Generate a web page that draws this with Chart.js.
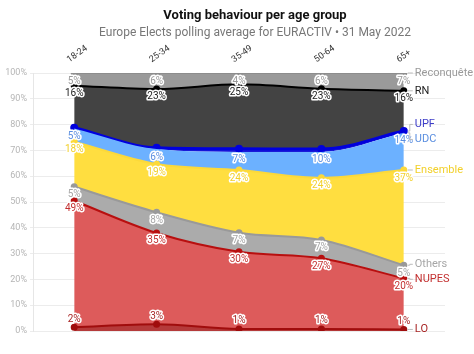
<!DOCTYPE html>
<html lang="en">
<head>
    <meta charset="UTF-8">
    <title>Voting behaviour per age group</title>
    <script src="https://cdn.jsdelivr.net/npm/chart.js"></script>
    <style>
        body {
            margin: 0;
            background: white;
        }
        #wrap {
            width: 474px;
            height: 354px;
        }
    </style>
</head>
<body>
    <div id="wrap"><canvas id="votingChart" width="474" height="354"></canvas></div>

    <script>
        // Age groups and vote shares (%), bottom of the stack first
        const ageGroups = ['18-24', '25-34', '35-49', '50-64', '65+'];
        const lo = [1.5, 2.6, 0.8, 0.8, 0.6];
        const nupes = [49, 35.4, 29.9, 27.4, 19.8];
        const others = [5.4, 8, 7.4, 7.1, 5.1];
        const ensemble = [17.5, 18.7, 24.3, 24.1, 36.9];
        const udc = [5.1, 5.8, 7, 10, 14.4];
        const upf = [0.3, 0.5, 1.2, 1.1, 0.7];
        const rn = [16.3, 22.8, 25, 23.4, 15.6];
        const reconquete = [4.9, 6.2, 4.4, 6.1, 6.9];
        const yTicks = [0, 10, 20, 30, 40, 50, 60, 70, 80, 90, 100];

        const FONT = 'Roboto, "DejaVu Sans", sans-serif';

        function series(label, data, line, fill, labelColor, showLabels) {
            return {
                label: label,
                data: data,
                borderColor: line,
                backgroundColor: fill,
                pointBackgroundColor: line,
                pointBorderColor: line,
                pointRadius: 2.5,
                borderWidth: 2,
                fill: '-1',
                cubicInterpolationMode: 'monotone',
                labelColor: labelColor,
                showLabels: showLabels
            };
        }

        const datasets = [
            series('LO', lo, '#a00d0d', '#b53a3a', '#a82525', true),
            series('NUPES', nupes, '#b80f0f', '#dd5b5b', '#c33030', true),
            series('Others', others, '#999999', '#ababab', '#a6a6a6', true),
            series('Ensemble', ensemble, '#fcd93a', '#ffde40', '#f2d02a', true),
            series('UDC', udc, '#6cb1ff', '#6cb1ff', '#5b8fe0', true),
            series('UPF', upf, '#0000dd', '#1a1ad8', '#3d3dc8', false),
            series('RN', rn, '#000000', '#434343', '#222222', true),
            series('Reconquête', reconquete, '#8d8d8d', '#9a9a9a', '#9a9a9a', true)
        ];
        datasets[0].fill = 'origin';
        datasets[5].borderWidth = 3;
        datasets[4].borderWidth = 0;
        datasets[4].pointRadius = 0;

        // value labels on each point + name labels at the right end
        const labelPlugin = {
            id: 'labelPlugin',
            afterDatasetsDraw(chart) {
                const ctx = chart.ctx;
                ctx.save();
                ctx.font = '10px ' + FONT;
                ctx.textAlign = 'center';
                ctx.textBaseline = 'middle';
                ctx.lineJoin = 'round';
                chart.data.datasets.forEach((ds, i) => {
                    if (!ds.showLabels) return;
                    const meta = chart.getDatasetMeta(i);
                    meta.data.forEach((pt, j) => {
                        const txt = Math.round(ds.data[j]) + '%';
                        const y = i === 0 ? pt.y - 8 : pt.y + 8;
                        ctx.strokeStyle = 'white';
                        ctx.lineWidth = 3;
                        ctx.strokeText(txt, pt.x, y);
                        ctx.fillStyle = ds.labelColor;
                        ctx.fillText(txt, pt.x, y);
                    });
                });

                // right side names, pushed apart where they crowd
                const items = chart.data.datasets.map((ds, i) => {
                    const meta = chart.getDatasetMeta(i);
                    const pt = meta.data[meta.data.length - 1];
                    return { name: ds.label, color: ds.labelColor, x: pt.x, py: pt.y, y: pt.y };
                }).sort((a, b) => a.py - b.py);
                const gap = 15;
                for (let k = 0; k < 20; k++) {
                    for (let n = 1; n < items.length; n++) {
                        const d = items[n].y - items[n - 1].y;
                        if (d < gap) {
                            const push = (gap - d) / 2;
                            items[n].y += push;
                            items[n - 1].y -= push;
                        }
                    }
                }
                ctx.textAlign = 'left';
                ctx.font = '11px ' + FONT;
                items.forEach(it => {
                    ctx.strokeStyle = '#bbbbbb';
                    ctx.lineWidth = 1;
                    ctx.beginPath();
                    ctx.moveTo(it.x + 4, it.py);
                    ctx.lineTo(it.x + 6, it.py);
                    ctx.lineTo(it.x + 6, it.y);
                    ctx.lineTo(it.x + 9, it.y);
                    ctx.stroke();
                    ctx.fillStyle = it.color;
                    ctx.fillText(it.name, it.x + 11, it.y);
                });
                ctx.restore();
            }
        };

        // title and subtitle
        const titlePlugin = {
            id: 'titlePlugin',
            afterDraw(chart) {
                const ctx = chart.ctx;
                ctx.save();
                ctx.textAlign = 'center';
                ctx.textBaseline = 'middle';
                ctx.fillStyle = '#111111';
                ctx.font = 'bold 13px ' + FONT;
                ctx.fillText('Voting behaviour per age group', 255, 16);
                ctx.fillStyle = '#777777';
                ctx.font = '12px ' + FONT;
                ctx.fillText('Europe Elects polling average for EURACTIV • 31 May 2022', 255, 33);
                ctx.restore();
            }
        };

        new Chart(document.getElementById('votingChart'), {
            type: 'line',
            data: {
                labels: ageGroups,
                datasets: datasets
            },
            options: {
                responsive: false,
                animation: false,
                layout: {
                    padding: { top: 40, right: 29, bottom: 23, left: 0 }
                },
                plugins: {
                    legend: { display: false },
                    tooltip: { enabled: false },
                    filler: { propagate: false }
                },
                scales: {
                    x: {
                        position: 'top',
                        offset: true,
                        grid: { display: false },
                        border: { display: false },
                        ticks: {
                            color: '#333333',
                            font: { size: 9, family: FONT },
                            minRotation: 35,
                            maxRotation: 35,
                            padding: 0
                        },
                        afterFit(scale) { scale.height = 33; }
                    },
                    y: {
                        stacked: true,
                        min: 0,
                        max: 100,
                        afterBuildTicks(scale) {
                            scale.ticks = yTicks.map(v => ({ value: v }));
                        },
                        grid: { color: '#ececec', tickLength: 3 },
                        border: { color: '#e6e6e6' },
                        ticks: {
                            color: '#b5b5b5',
                            font: { size: 9, family: FONT },
                            padding: 3,
                            callback: v => v + '%'
                        },
                        afterFit(scale) { scale.width = 33; }
                    }
                }
            },
            plugins: [labelPlugin, titlePlugin]
        });
    </script>
</body>
</html>
